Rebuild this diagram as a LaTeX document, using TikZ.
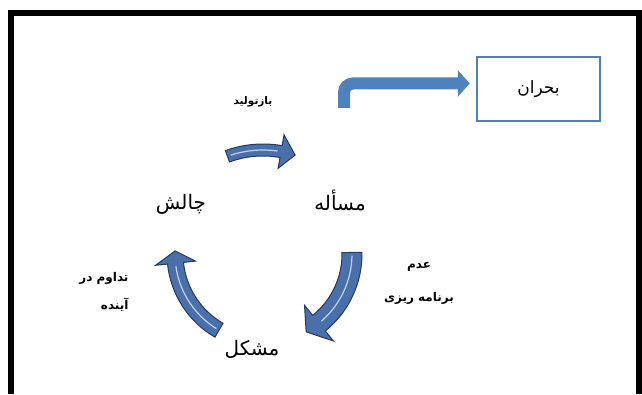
\documentclass[tikz,border=0pt]{standalone}
\usepackage{fontspec}
\newfontfamily\arabicfont[Script=Arabic]{DejaVu Sans}
\TeXXeTstate=1
\usetikzlibrary{arrows.meta}
\definecolor{boxblue}{RGB}{79,129,189}
\definecolor{arrowblue}{RGB}{74,112,172}
\definecolor{arrowdark}{RGB}{36,58,98}
\definecolor{arrowlight}{RGB}{190,210,236}
\newcommand{\pers}[1]{\arabicfont\beginR #1\endR}

\begin{document}
\begin{tikzpicture}[x=1pt,y=1pt]
\tikzstyle{frame} = [line width=6pt, black]
\tikzstyle{box} = [draw=boxblue, line width=2.5pt, minimum width=123pt, minimum height=64pt, font=\fontsize{17}{20}\selectfont]
\tikzstyle{word} = [font=\fontsize{20}{24}\selectfont]
\tikzstyle{note} = [font=\fontsize{12}{14}\selectfont\bfseries]
\tikzstyle{cycle arrow} = [fill=arrowblue, draw=arrowdark, line width=1pt]
\tikzstyle{cycle shine} = [arrowlight, line width=1.2pt]
\tikzstyle{bent arrow} = [draw=boxblue, line width=12pt, rounded corners=9pt, -{Triangle[length=12pt,width=26pt]}, shorten >=6pt]

\useasboundingbox (0,0) rectangle (642,394);
\draw[frame] (11,0) -- (11,381) -- (639,381) -- (639,0);

% the cycle
\node[word] (problem) at (340,194) {\pers{مسأله}};
\node[word] (challenge) at (181,190) {\pers{چالش}};
\node[word] (trouble) at (252,45) {\pers{مشکل}};

\node[note, font=\fontsize{10.5}{12}\selectfont\bfseries] (reprod) at (253,292) {\pers{بازتولید}};
\node[note, align=center] (noplan) at (419,111) {\pers{عدم}\\[19pt]\pers{برنامه ریزی}};
\node[note, align=right, anchor=east] (future) at (132,102) {\pers{تداوم در}\\[13pt]\pers{آینده}};

\begin{scope}[shift={(263,140)}]
\foreach \r/\a/\b/\w/\h/\d in {104/110/72/6/17/8, 89/1/-61/10/23/10, 88/240/178/8/20/8} {
  \filldraw[cycle arrow] ({\a}:{\r+\w}) arc[start angle=\a, end angle=\b+\d, radius=\r+\w]
    -- ({\b+\d}:{\r+\h}) -- ({\b}:{\r}) -- ({\b+\d}:{\r-\h}) -- ({\b+\d}:{\r-\w})
    arc[start angle=\b+\d, end angle=\a, radius=\r-\w] -- cycle;
  \draw[cycle shine] ({\a-2}:{\r}) arc[start angle=\a-2, end angle=\b+\d+2, radius=\r];
}
\end{scope}

% way out to the crisis
\node[box] (crisis) at (538.5,305) {\pers{بحران}};
\coordinate (exit) at (344,286);
\coordinate (turn) at (344,310.5);
\draw[bent arrow] (exit) -- (turn) -- (turn -| crisis.west);
\end{tikzpicture}
\end{document}
